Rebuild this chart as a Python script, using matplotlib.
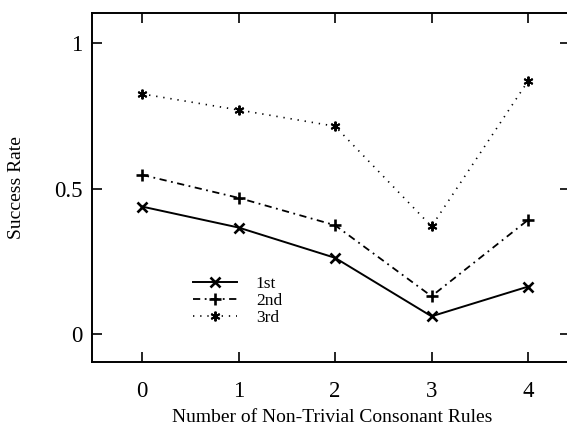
import matplotlib
matplotlib.use("Agg")
import matplotlib.pyplot as plt
from matplotlib.markers import MarkerStyle

plt.rcParams['font.family'] = ['Liberation Serif', 'DejaVu Serif']

rules = [0, 1, 2, 3, 4]
first = [0.438, 0.366, 0.262, 0.061, 0.163]
second = [0.547, 0.468, 0.374, 0.130, 0.392]
third = [0.825, 0.770, 0.714, 0.370, 0.869]
labels = ["1st", "2nd", "3rd"]

fig = plt.figure(figsize=(5.67, 4.25), dpi=100)
ax = fig.add_axes([0.1623, 0.1482, 0.843, 0.8212])

asterisk = MarkerStyle((6, 2, 0))
ax.plot(rules, first, color='k', lw=1.4, ls='-', marker='x', ms=7, mew=1.9, label=labels[0])
ax.plot(rules, second, color='k', lw=1.3, ls=(0, (4, 2.5, 1, 2.5)), marker='+', ms=9, mew=1.9, label=labels[1])
ax.plot(rules, third, color='k', lw=1.2, ls=(0, (0.8, 3.5)), marker=asterisk, ms=7, mew=1.4, label=labels[2])

ax.set_xlim(-0.518, 4.435)
ax.set_ylim(-0.096, 1.103)
ax.set_xticks(rules)
ax.set_yticks([0, 0.5, 1])
ax.set_yticklabels(["0", "0.5", "1"])
ax.tick_params(direction='in', length=7, width=1.2, top=True, right=True, labelsize=16.5)
ax.tick_params(axis='x', pad=14)
ax.tick_params(axis='y', pad=7)
for s in ax.spines.values():
    s.set_linewidth(1.4)

ax.set_xlabel("Number of Non-Trivial Consonant Rules", fontsize=14)
ax.xaxis.set_label_coords(0.503, -0.134)
ax.set_ylabel("Success Rate", fontsize=14)
ax.yaxis.set_label_coords(-0.14, 0.5)

ax.legend(loc='upper left', bbox_to_anchor=(0.212, 0.246), frameon=False, fontsize=12.5,
          handlelength=2.5, handletextpad=1.1, labelspacing=0.05, borderpad=0, borderaxespad=0)

fig.savefig("out.png", dpi=100)
